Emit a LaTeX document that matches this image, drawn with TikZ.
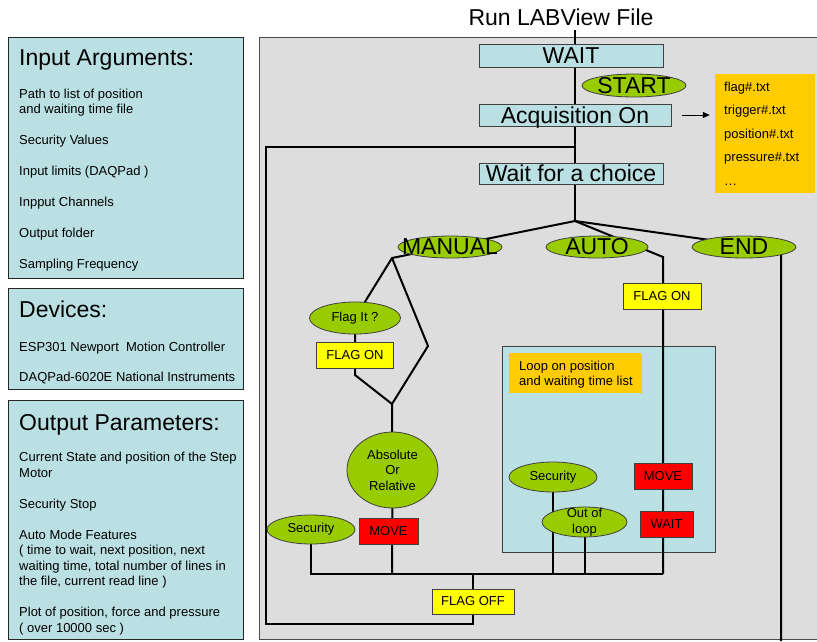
\documentclass[tikz,border=0pt]{standalone}
\usepackage{fontspec}
\setmainfont{Liberation Sans}
\usetikzlibrary{shapes.geometric,arrows.meta}
\pgfdeclarelayer{bg}
\pgfdeclarelayer{wires}
\pgfsetlayers{bg,wires,main}
\definecolor{graybg}{HTML}{DDDDDD}
\definecolor{cyanbox}{HTML}{BBE0E3}
\definecolor{greenell}{HTML}{99CC00}
\definecolor{orangebox}{HTML}{FFCC00}
\definecolor{yellowbox}{HTML}{FFFF00}
\definecolor{redbox}{HTML}{FF0000}
\newcommand{\bigf}{\fontsize{23}{27}\selectfont}
\newcommand{\smallf}{\fontsize{13}{15.5}\selectfont}
\tikzset{
  wire/.style={line width=2pt, draw=black},
  bord/.style={draw=black!75, line width=0.8pt},
  cbox/.style={bord, fill=cyanbox, rectangle, inner sep=0pt, font=\bigf, text height=16.5pt, text depth=0pt},
  ybox/.style={bord, fill=yellowbox, rectangle, inner sep=0pt, font=\smallf},
  rbox/.style={bord, fill=redbox, rectangle, inner sep=0pt, font=\smallf},
  gell/.style={bord, fill=greenell, ellipse, inner sep=0pt},
  obox/.style={fill=orangebox, rectangle, inner sep=0pt},
  panel/.style={draw=black!85, line width=0.9pt, fill=cyanbox, rectangle, inner sep=0pt, anchor=north west},
  ptitle/.style={anchor=base west, inner sep=0pt, font=\bigf},
  pitem/.style={anchor=base west, inner sep=0pt, font=\smallf},
  arrowst/.style={line width=1pt, -{Triangle[length=7pt,width=6pt]}},
}
\begin{document}
\begin{tikzpicture}[x=1pt,y=-1pt]
\useasboundingbox (0,0) rectangle (817,641);
\begin{pgfonlayer}{bg}
  \fill[graybg] (259,37) rectangle (817,639);
  \draw[black!70, line width=0.8pt] (817,37) -- (259,37) -- (259,639) -- (817,639);
  \node[bord, fill=cyanbox, minimum width=213pt, minimum height=206pt, inner sep=0pt] (loopbox) at (608.5,449) {};
\end{pgfonlayer}

% left panels
\node[panel, minimum width=235pt, minimum height=241pt] (inpanel) at (8,37) {};
\node[ptitle] (intitle) at (19,65) {Input Arguments:};
\foreach \yy/\ltxt [count=\i] in {98/Path to list of position, 113.5/and waiting time file, 144.5/Security Values, 175.5/Input limits (DAQPad ), 206.5/Inpput Channels, 237.5/Output folder, 268.5/Sampling Frequency}
  \node[pitem] (in\i) at (19,\yy) {\ltxt};

\node[panel, minimum width=235pt, minimum height=101pt] (devpanel) at (8,288) {};
\node[ptitle] (devtitle) at (19,317) {Devices:};
\node[pitem] (dev1) at (19,351) {ESP301 Newport\ \ Motion Controller};
\node[pitem] (dev2) at (19,381) {DAQPad-6020E National Instruments};

\node[panel, minimum width=235pt, minimum height=239pt] (outpanel) at (8,400) {};
\node[ptitle] (outtitle) at (19,430) {Output Parameters:};
\foreach \yy/\ltxt [count=\i] in {461/Current State and position of the Step, 477/Motor, 508/Security Stop, 539/Auto Mode Features, 554/{( time to wait, next position, next}, 570/{waiting time, total number of lines in}, 585/{the file, current read line )}, 616/{Plot of position, force and pressure}, 632/( over 10000 sec )}
  \node[pitem] (out\i) at (19,\yy) {\ltxt};

% top flow
\node[font=\bigf, inner sep=0pt, anchor=base] (run) at (561,25) {Run LABView File};
\node[cbox, minimum width=184pt, minimum height=23pt] (wait) at (571,55.5) {WAIT};
\node[gell, minimum width=104pt, minimum height=23pt, label={[font=\bigf]center:START}] (start) at (634,85.5) {};
\node[cbox, minimum width=192pt, minimum height=22pt] (acq) at (575,115) {Acquisition On};
\node[cbox, minimum width=184pt, minimum height=21pt] (choice) at (571,173.5) {Wait for a choice};
\node[obox, minimum width=100pt, minimum height=119pt] (files) at (765,133.5) {};
\foreach \yy/\ltxt [count=\i] in {91/flag\#.txt, 114/trigger\#.txt, 138/position\#.txt, 161/pressure\#.txt, 185/…}
  \node[pitem] (f\i) at (724,\yy) {\ltxt};
\draw[arrowst, shorten <=11pt, shorten >=5pt] (acq.east) -- (files.west |- acq.east);

% choices
\node[gell, minimum width=104pt, minimum height=22pt, label={[font=\bigf]center:MANUAL}] (manual) at (450,247) {};
\node[gell, minimum width=102pt, minimum height=22pt, label={[font=\bigf]center:AUTO}] (auto) at (597,247) {};
\node[gell, minimum width=104pt, minimum height=22pt, label={[font=\bigf]center:END}] (endn) at (744,247) {};

% manual branch
\node[gell, minimum width=91pt, minimum height=32pt, label={[font=\smallf]center:Flag It ?}] (flagit) at (355,318) {};
\node[ybox, minimum width=77pt, minimum height=26pt] (flagon1) at (355,355) {FLAG ON};
\node[gell, minimum width=91pt, minimum height=76pt, label={[font=\smallf, align=center]center:Absolute\\Or\\Relative}] (absol) at (392.5,470) {};
\node[rbox, minimum width=59pt, minimum height=26pt] (move1) at (388.5,531) {MOVE};
\node[gell, minimum width=88pt, minimum height=29pt, label={[font=\smallf]center:Security}] (sec1) at (311,529.5) {};

% auto branch
\node[ybox, minimum width=78pt, minimum height=26pt] (flagon2) at (662,296) {FLAG ON};
\node[obox, minimum width=133pt, minimum height=40pt] (looplab) at (575.5,373) {};
\node[pitem] (loop1) at (519,370.7) {Loop on position};
\node[pitem] (loop2) at (519,385.5) {and waiting time list};
\node[gell, minimum width=88pt, minimum height=30pt, label={[font=\smallf]center:Security}] (sec2) at (553,477) {};
\node[gell, minimum width=85pt, minimum height=30pt, label={[font=\smallf, align=center]center:Out of\\loop}] (outl) at (584.5,522) {};
\node[rbox, minimum width=58pt, minimum height=26pt] (move2) at (663,476) {MOVE};
\node[rbox, minimum width=53pt, minimum height=26pt] (wait2) at (666.5,524) {WAIT};

\node[ybox, minimum width=82pt, minimum height=25pt] (flagoff) at (473,601.5) {FLAG OFF};

% connectors
\begin{pgfonlayer}{wires}
  \coordinate (top) at (575,30);
  \coordinate (fork) at (575,221);
  \coordinate (mc) at (392,258);
  \coordinate (mr) at (428,346);
  \coordinate (mj) at (392,404);
  \coordinate (fl) at (355,375);
  \coordinate (ac) at (663,257);
  \coordinate (ec) at (781,250);
  \coordinate (eb) at (781,641);
  \coordinate (busl) at (311,574);
  \coordinate (busr) at (663,574);
  \coordinate (lt) at (266,147);
  \coordinate (lb) at (266,624);
  \coordinate (tr) at (575,147);
  \draw[wire] (top) -- (fork);
  \draw[wire] (tr) -- (lt) -- (lb) -- (flagoff |- lb) -- (flagoff.center) -- (flagoff |- busl);
  \draw[wire] (fork) -- (mc) -- (flagit.center) -- (flagon1.center) -- (fl) -- (mj);
  \draw[wire] (mc) -- (mr) -- (mj) -- (absol.center) -- (mj |- busl);
  \draw[wire] (fork) -- (ac) -- (busr);
  \draw[wire] (fork) -- (ec) -- (eb);
  \draw[wire] (sec1.center) -- (busl) -- (busr);
  \draw[wire] (sec2.center) -- (sec2 |- busl);
  \draw[wire] (outl.center) -- (outl |- busl);
\end{pgfonlayer}
\end{tikzpicture}
\end{document}
